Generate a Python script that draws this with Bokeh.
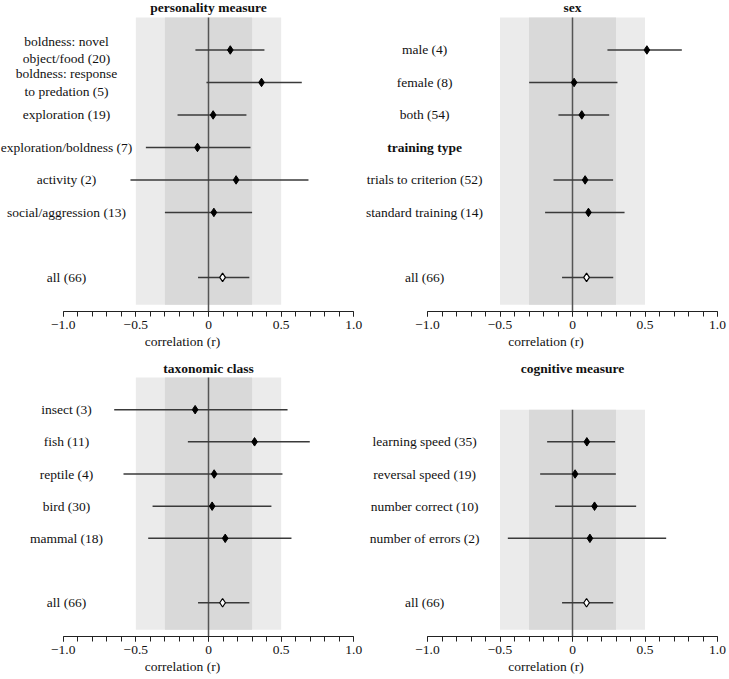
from bokeh.plotting import figure
from bokeh.layouts import column, row
from bokeh.models import Range1d, FixedTicker, CustomJSTickFormatter, ColumnDataSource
from bokeh.core.properties import value
from bokeh.embed import file_html
from bokeh.resources import INLINE

# ---------------- data ----------------
pers_labels = ["boldness: novel\nobject/food (20)", "boldness: response\nto predation (5)",
               "exploration (19)", "exploration/boldness (7)", "activity (2)",
               "social/aggression (13)"]
pers_r = [0.150, 0.365, 0.032, -0.076, 0.190, 0.037]
pers_lo = [-0.090, -0.014, -0.213, -0.431, -0.537, -0.300]
pers_hi = [0.385, 0.642, 0.261, 0.289, 0.688, 0.300]

sex_labels = ["male (4)", "female (8)", "both (54)"]
sex_r = [0.513, 0.011, 0.064]
sex_lo = [0.241, -0.299, -0.097]
sex_hi = [0.754, 0.310, 0.253]

train_heading = "training type"
train_labels = ["trials to criterion (52)", "standard training (14)"]
train_r = [0.087, 0.110]
train_lo = [-0.131, -0.189]
train_hi = [0.280, 0.359]

taxa_labels = ["insect (3)", "fish (11)", "reptile (4)", "bird (30)", "mammal (18)"]
taxa_r = [-0.092, 0.317, 0.039, 0.025, 0.115]
taxa_lo = [-0.649, -0.142, -0.585, -0.385, -0.415]
taxa_hi = [0.544, 0.697, 0.509, 0.433, 0.571]

cog_labels = ["learning speed (35)", "reversal speed (19)", "number correct (10)",
              "number of errors (2)"]
cog_r = [0.099, 0.018, 0.152, 0.120]
cog_lo = [-0.175, -0.223, -0.120, -0.446]
cog_hi = [0.294, 0.299, 0.439, 0.646]

all_label = "all (66)"
all_r = 0.097
all_lo = -0.072
all_hi = 0.281

band_outer = 0.5
band_inner = 0.3
tick_vals = [-1.0, -0.5, 0.0, 0.5, 1.0]
minor_vals = [round(-1 + 0.1 * i, 1) for i in range(21)]
axis_title = "correlation (r)"

# ---------------- styling ----------------
FONT = "Liberation Serif"
FS = "13.5px"
TXT = "#111111"

fmt = CustomJSTickFormatter(code="""
if (Math.abs(tick) < 1e-9) { return "0"; }
return (tick < 0 ? "\\u2212" : "") + Math.abs(tick).toFixed(1);
""")


def panel(title, labels, rs, los, his, ys, all_row, band_top, width, height,
          x_start, x_end, y_top, title_y, label_x, heading=None, heading_y=None):
    axis_row = all_row + 1.05
    band_bottom = all_row + 0.84
    p = figure(width=width, height=height, output_backend="svg", toolbar_location=None,
               x_range=Range1d(x_start, x_end), y_range=Range1d(axis_row, y_top),
               min_border_left=0, min_border_right=0,
               min_border_top=0, min_border_bottom=42)
    p.outline_line_color = None
    p.xgrid.visible = False
    p.ygrid.visible = False
    p.yaxis.visible = False
    p.background_fill_color = "white"
    p.border_fill_color = "white"

    # panel title
    p.text(x=[0], y=[title_y], text=[title], text_align="center", text_baseline="middle",
           text_font=value(FONT), text_font_size=FS, text_font_style="bold",
           text_color=TXT)

    # reference bands
    p.quad(left=[-band_outer], right=[band_outer], top=[band_top], bottom=[band_bottom],
           fill_color="#ebebeb", line_color=None)
    p.quad(left=[-band_inner], right=[band_inner], top=[band_top], bottom=[band_bottom],
           fill_color="#d9d9d9", line_color=None)
    p.segment(x0=[0], y0=[band_top], x1=[0], y1=[axis_row], line_color="#555555",
              line_width=1.5)

    src = ColumnDataSource(dict(label=labels, r=rs, lo=los, hi=his, y=ys))
    p.segment(x0="lo", y0="y", x1="hi", y1="y", source=src, line_color="#3a3a3a",
              line_width=1.5)
    p.scatter(x="r", y="y", source=src, marker="diamond", size=8.5,
              fill_color="black", line_color="black", line_width=1)
    p.text(x=label_x, y="y", text="label", source=src, text_align="center",
           text_baseline="middle", text_font=value(FONT), text_font_size=FS,
           text_color=TXT, text_line_height=1.16)

    if heading is not None:
        p.text(x=[label_x], y=[heading_y], text=[heading], text_align="center",
               text_baseline="middle", text_font=value(FONT), text_font_size=FS,
               text_font_style="bold", text_color=TXT)

    # overall estimate
    p.segment(x0=[all_lo], y0=[all_row], x1=[all_hi], y1=[all_row], line_color="#3a3a3a",
              line_width=1.5)
    p.scatter(x=[all_r], y=[all_row], marker="diamond", size=8.5, fill_color="white",
              line_color="black", line_width=1.2)
    p.text(x=[label_x], y=[all_row], text=[all_label], text_align="center",
           text_baseline="middle", text_font=value(FONT), text_font_size=FS,
           text_color=TXT)

    ax = p.xaxis[0]
    ax.bounds = (-1, 1)
    ax.ticker = FixedTicker(ticks=tick_vals, minor_ticks=minor_vals)
    ax.formatter = fmt
    ax.major_tick_in = 0
    ax.major_tick_out = 5
    ax.minor_tick_in = 0
    ax.minor_tick_out = 5
    ax.axis_line_color = "#222222"
    ax.major_tick_line_color = "#222222"
    ax.minor_tick_line_color = "#222222"
    ax.major_label_text_font = FONT
    ax.major_label_text_font_size = FS
    ax.major_label_text_color = TXT
    ax.major_label_standoff = 4
    ax.axis_label = axis_title
    ax.axis_label_text_font = FONT
    ax.axis_label_text_font_size = FS
    ax.axis_label_text_font_style = "normal"
    ax.axis_label_text_color = TXT
    ax.axis_label_standoff = 2
    return p


L_W, R_W = 364, 363
T_H, B_H = 353, 325
L_SCALE, R_SCALE = 145.3, 145.0
L_START, L_END = -1 - 62.7 / L_SCALE, 1 + (L_W - 62.7 - 2 * L_SCALE) / L_SCALE
R_START, R_END = -1 - 63 / R_SCALE, 1 + (R_W - 63 - 2 * R_SCALE) / R_SCALE

p1 = panel("personality measure", pers_labels, pers_r, pers_lo, pers_hi,
           [1, 2, 3, 4, 5, 6], 8, 0, L_W, T_H, L_START, L_END, -0.523, -0.30, -0.977)
p2 = panel("sex", sex_labels + train_labels, sex_r + train_r, sex_lo + train_lo,
           sex_hi + train_hi, [1, 2, 3, 5, 6], 8, 0, R_W, T_H, R_START, R_END,
           -0.523, -0.30, -1.02, heading=train_heading, heading_y=4)
p3 = panel("taxonomic class", taxa_labels, taxa_r, taxa_lo, taxa_hi,
           [1, 2, 3, 4, 5], 7, 0, L_W, B_H, L_START, L_END, -0.745, -0.28, -0.977)
p4 = panel("cognitive measure", cog_labels, cog_r, cog_lo, cog_hi,
           [2, 3, 4, 5], 7, 1, R_W, B_H, R_START, R_END, -0.745, -0.28, -1.02)

layout = column(row(p1, p2, spacing=0), row(p3, p4, spacing=0), spacing=0)

with open("out.html", "w") as f:
    f.write(file_html(layout, INLINE))
